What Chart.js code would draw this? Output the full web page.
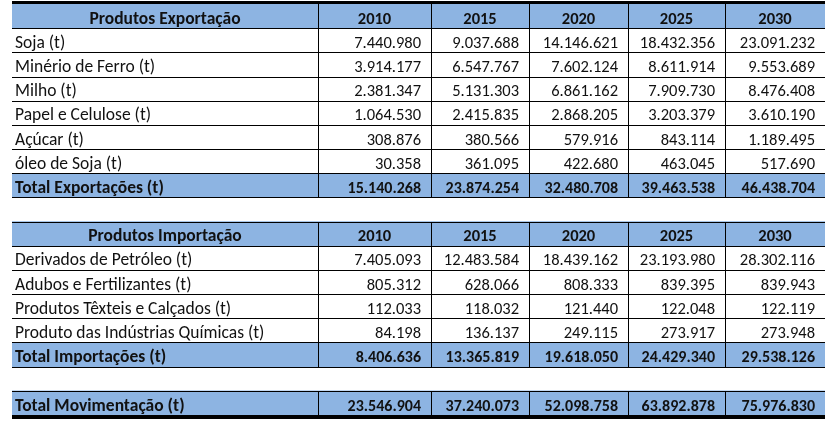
<!DOCTYPE html>
<html>
<head>
<meta charset="utf-8">
<script src="https://cdn.jsdelivr.net/npm/chart.js@4"></script>
<style>
  body { margin: 0; background: #fff; }
  #wrap { width: 832px; height: 422px; }
</style>
</head>
<body>
<div id="wrap"><canvas id="tbl" width="832" height="422"></canvas></div>
<script>
// Data
const years = ['2010', '2015', '2020', '2025', '2030']

const exportProducts = ['Soja (t)', 'Minério de Ferro (t)', 'Milho (t)', 'Papel e Celulose (t)', 'Açúcar (t)', 'óleo de Soja (t)']
const soja = [7440980, 9037688, 14146621, 18432356, 23091232]
const minerio = [3914177, 6547767, 7602124, 8611914, 9553689]
const milho = [2381347, 5131303, 6861162, 7909730, 8476408]
const papel = [1064530, 2415835, 2868205, 3203379, 3610190]
const acucar = [308876, 380566, 579916, 843114, 1189495]
const oleoSoja = [30358, 361095, 422680, 463045, 517690]
const totalExport = [15140268, 23874254, 32480708, 39463538, 46438704]

const importProducts = ['Derivados de Petróleo (t)', 'Adubos e Fertilizantes (t)', 'Produtos Têxteis e Calçados (t)', 'Produto das Indústrias Químicas (t)']
const derivados = [7405093, 12483584, 18439162, 23193980, 28302116]
const adubos = [805312, 628066, 808333, 839395, 839943]
const texteis = [112033, 118032, 121440, 122048, 122119]
const quimicas = [84198, 136137, 249115, 273917, 273948]
const totalImport = [8406636, 13365819, 19618050, 24429340, 29538126]

const totalMov = [23546904, 37240073, 52098758, 63892878, 75976830]

// Layout: column edges in x-scale units (first column is the product name)
const colEdges = [0, 306, 419, 517, 616, 713, 813]
const FONT = "Carlito, Lato, sans-serif"
const BLUE = '#8db4e2'

// Build the row list (gap rows separate the three blocks)
const rows = [
  { kind: 'header', label: 'Produtos Exportação', values: years },
  ...exportProducts.map((p, i) => ({ kind: 'body', label: p, values: [soja, minerio, milho, papel, acucar, oleoSoja][i] })),
  { kind: 'total', label: 'Total Exportações (t)', values: totalExport },
  { kind: 'gap' },
  { kind: 'header', label: 'Produtos Importação', values: years },
  ...importProducts.map((p, i) => ({ kind: 'body', label: p, values: [derivados, adubos, texteis, quimicas][i] })),
  { kind: 'total', label: 'Total Importações (t)', values: totalImport },
  { kind: 'gap' },
  { kind: 'total', label: 'Total Movimentação (t)', values: totalMov }
]

const fmt = v => typeof v === 'number' ? String(v).replace(/\B(?=(\d{3})+(?!\d))/g, '.') : v

const tablePlugin = {
  id: 'tablePlugin',
  afterDatasetsDraw(chart) {
    const { ctx, chartArea, scales: { x, y } } = chart
    const h = (chartArea.bottom - chartArea.top) / rows.length
    const edgeX = colEdges.map(e => x.getPixelForValue(e))
    ctx.save()
    ctx.fillStyle = '#000'

    // horizontal rules
    for (let b = 0; b <= rows.length; b++) {
      const yy = Math.round(chartArea.top + b * h)
      if (b === 0) ctx.fillRect(chartArea.left, yy - 3, chartArea.right - chartArea.left, 3)
      else if (b === rows.length) ctx.fillRect(chartArea.left, yy, chartArea.right - chartArea.left, 4)
      else ctx.fillRect(chartArea.left, yy, chartArea.right - chartArea.left, 1)
    }

    rows.forEach((r, i) => {
      if (r.kind === 'gap') return
      const cy = y.getPixelForValue(i)
      const top = Math.round(cy - h / 2)
      const bottom = Math.round(cy + h / 2)
      // column dividers
      for (let c = 1; c < colEdges.length - 1; c++) {
        ctx.fillRect(Math.round(edgeX[c]), top, 1, bottom - top)
      }
      // texts
      const weight = r.kind !== 'body' ? 'bold ' : ''
      ctx.fillStyle = '#111'
      ctx.textBaseline = 'alphabetic'
      const base = cy + h / 2 - 4.5
      ctx.font = weight + '17.5px ' + FONT
      if (r.kind === 'header') {
        ctx.textAlign = 'center'
        ctx.fillText(r.label, (edgeX[0] + edgeX[1]) / 2, base)
        ctx.font = weight + '16.5px ' + FONT
        r.values.forEach((v, c) => ctx.fillText(fmt(v), (edgeX[c + 1] + edgeX[c + 2]) / 2, base))
      } else {
        ctx.textAlign = 'left'
        ctx.fillText(r.label, edgeX[0] + 3, base)
        ctx.textAlign = 'right'
        ctx.font = weight + (r.kind === 'total' ? '16px ' : '16.5px ') + FONT
        r.values.forEach((v, c) => ctx.fillText(fmt(v), edgeX[c + 2] - 10, base))
      }
      ctx.fillStyle = '#000'
    })
    ctx.restore()
  }
}

new Chart(document.getElementById('tbl'), {
  type: 'bar',
  data: {
    labels: rows.map((r, i) => r.label || ' ' + i),
    datasets: [{
      // shaded header / total rows
      data: rows.map(r => (r.kind === 'header' || r.kind === 'total') ? [colEdges[0], colEdges[colEdges.length - 1]] : null),
      backgroundColor: BLUE,
      borderWidth: 0,
      barPercentage: 1,
      categoryPercentage: 1
    }]
  },
  options: {
    indexAxis: 'y',
    responsive: false,
    animation: false,
    layout: { padding: { left: 12, right: 7, top: 4, bottom: 7 } },
    plugins: { legend: { display: false }, tooltip: { enabled: false } },
    scales: {
      x: { type: 'linear', min: colEdges[0], max: colEdges[colEdges.length - 1], display: false },
      y: { type: 'category', offset: true, display: false }
    }
  },
  plugins: [tablePlugin]
})
</script>
</body>
</html>
